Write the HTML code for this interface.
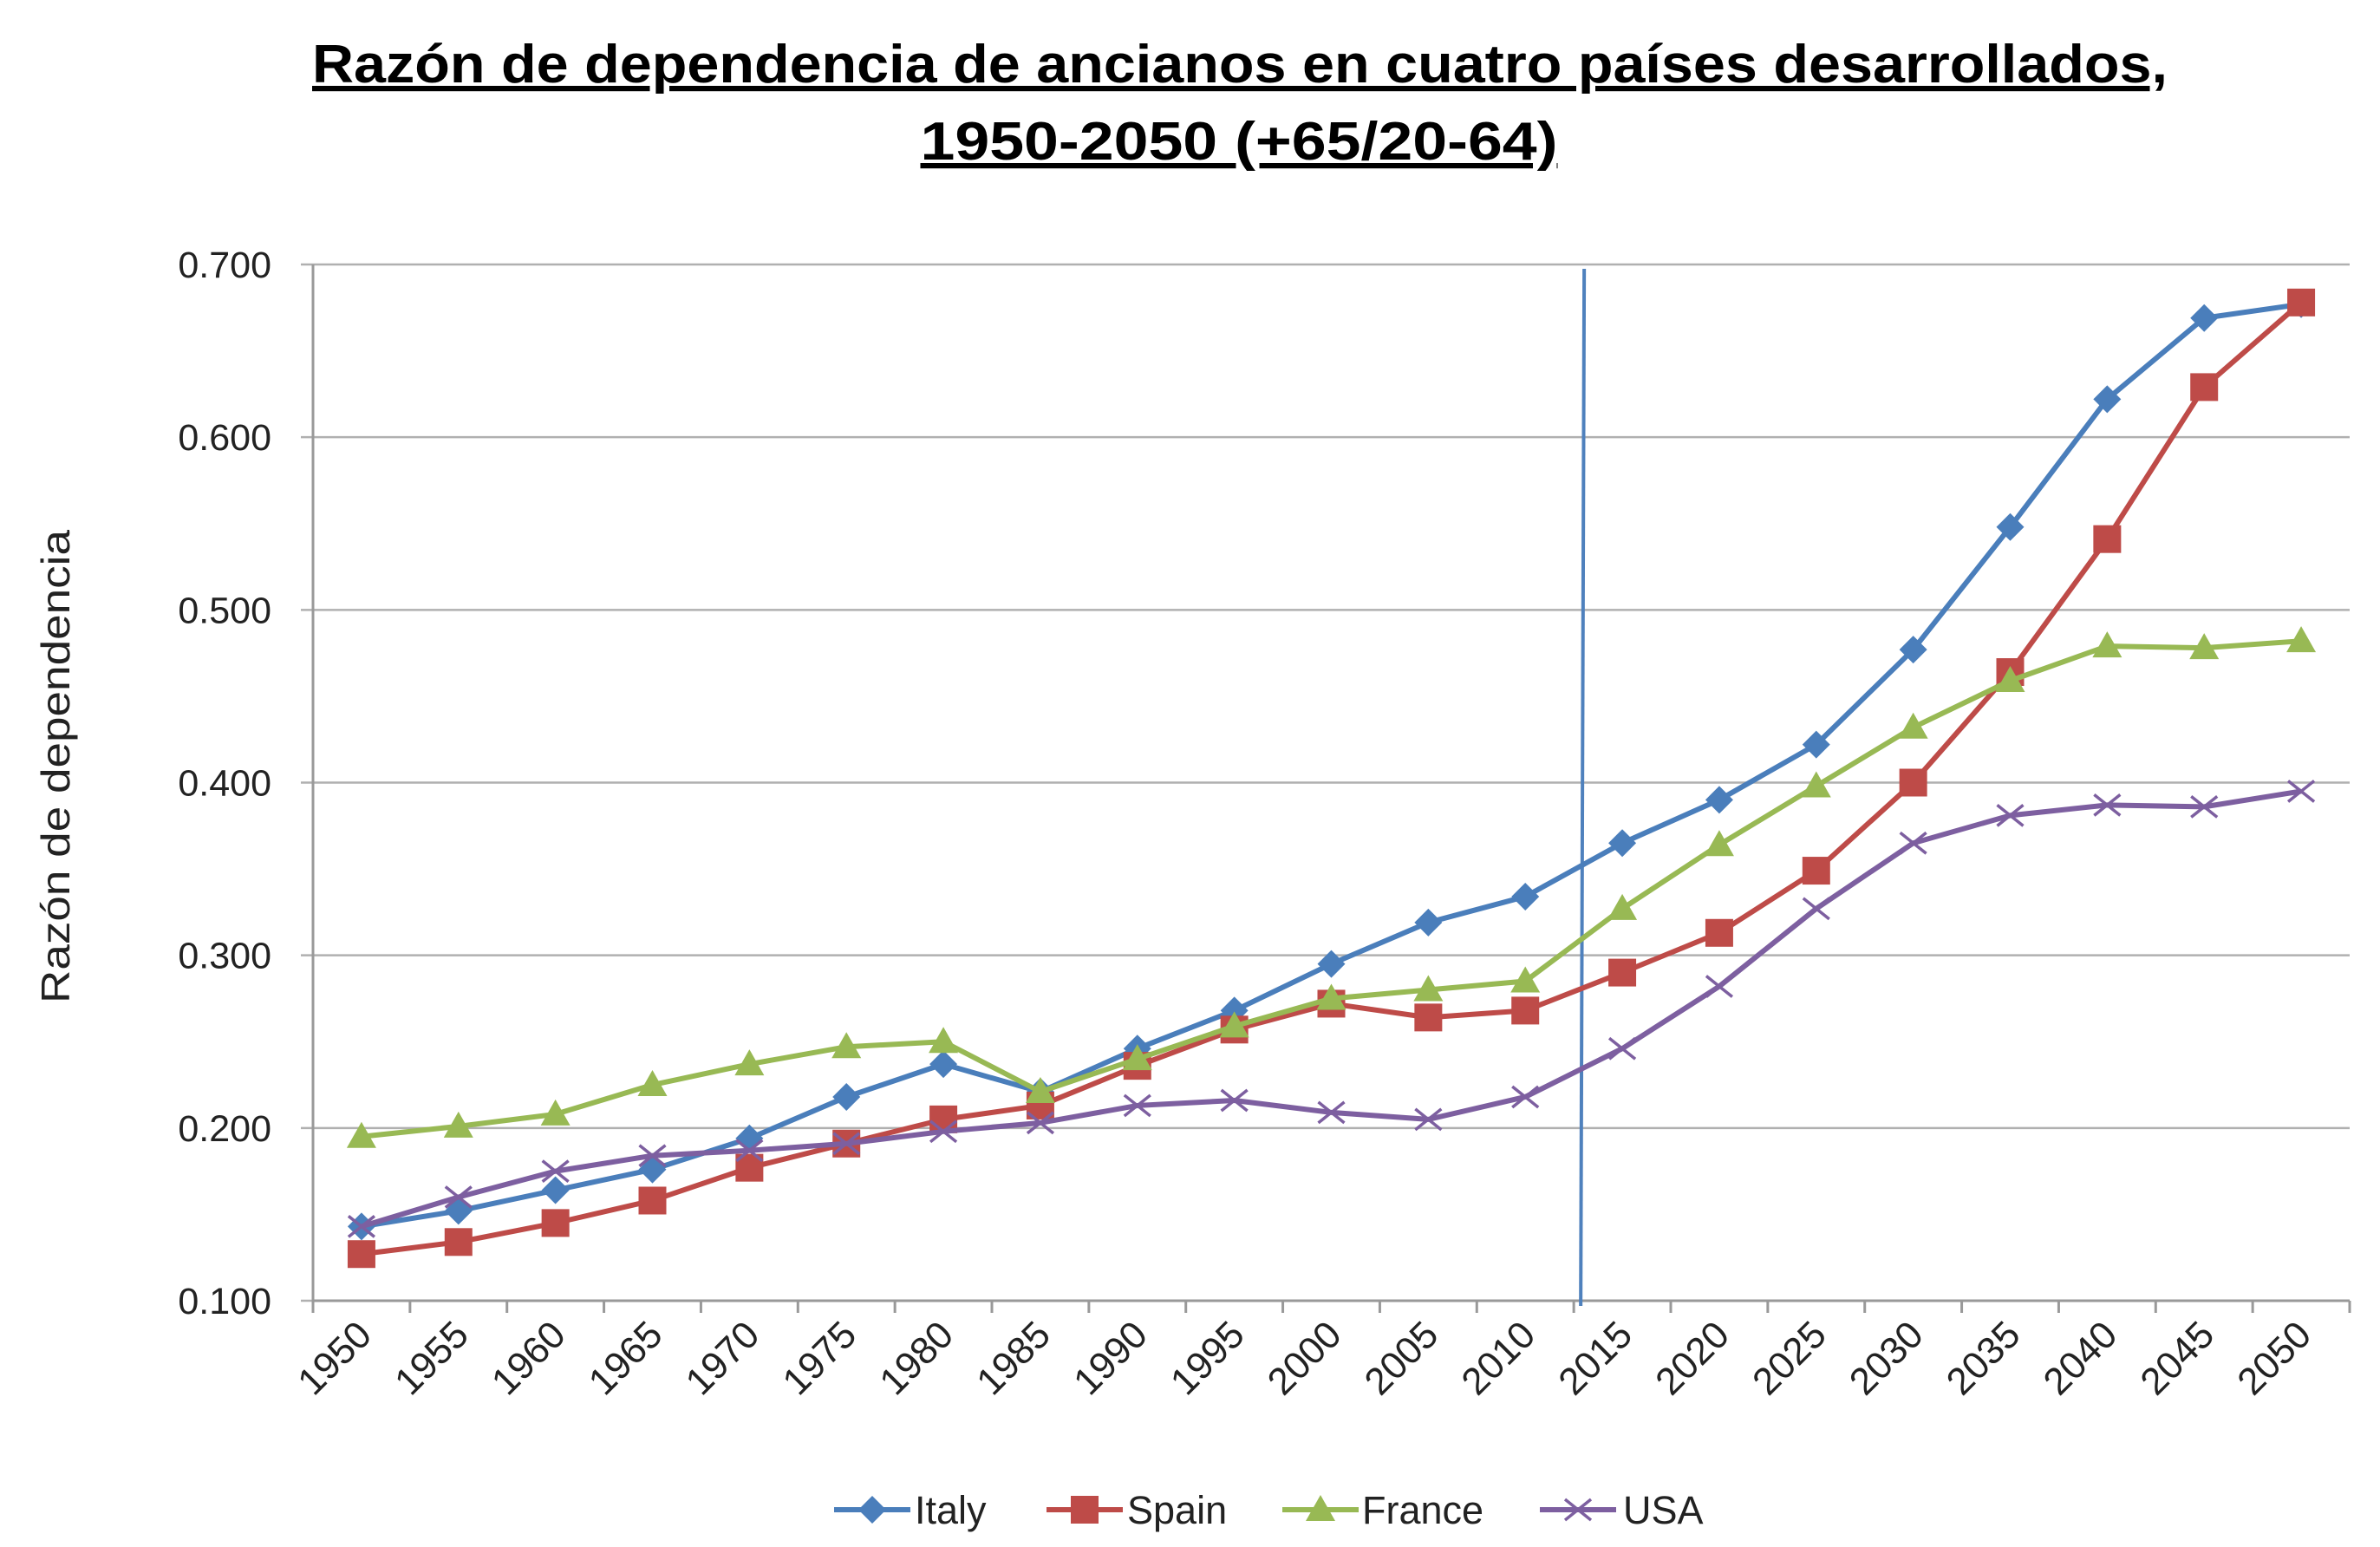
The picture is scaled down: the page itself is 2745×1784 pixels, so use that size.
<!DOCTYPE html>
<html><head><meta charset="utf-8"><style>
html,body{margin:0;padding:0;background:#fff;}
svg{display:block;font-family:"Liberation Sans",Arial,sans-serif;}
</style></head><body>
<svg id="chart" width="2745" height="1784" viewBox="0 0 2745 1784">
<text x="1430" y="95" text-anchor="middle" font-size="62" font-weight="bold" text-decoration="underline" textLength="2140" lengthAdjust="spacingAndGlyphs">Razón de dependencia de ancianos en cuatro países desarrollados,</text>
<text x="1429" y="184" text-anchor="middle" font-size="62" font-weight="bold" text-decoration="underline" textLength="735" lengthAdjust="spacingAndGlyphs">1950-2050 (+65/20-64)</text>
<text transform="translate(80,884) rotate(-90)" text-anchor="middle" font-size="46" fill="#222" textLength="546" lengthAdjust="spacingAndGlyphs">Razón de dependencia</text>
<g id="grid"></g><g id="axes"></g><g id="series"></g><g id="legend"></g>
</svg>
<script>
const years=[1950,1955,1960,1965,1970,1975,1980,1985,1990,1995,2000,2005,2010,2015,2020,2025,2030,2035,2040,2045,2050];
const italy=[0.143,0.152,0.164,0.176,0.194,0.218,0.237,0.221,0.246,0.268,0.295,0.319,0.334,0.365,0.390,0.422,0.477,0.548,0.622,0.669,0.677];
const spain=[0.127,0.134,0.145,0.158,0.177,0.191,0.205,0.213,0.236,0.257,0.272,0.264,0.268,0.290,0.313,0.349,0.400,0.464,0.541,0.629,0.678];
const france=[0.195,0.201,0.208,0.225,0.237,0.247,0.250,0.221,0.240,0.259,0.275,0.280,0.285,0.327,0.364,0.398,0.432,0.459,0.479,0.478,0.482];
const usa=[0.143,0.160,0.175,0.184,0.187,0.191,0.198,0.203,0.213,0.216,0.209,0.205,0.218,0.246,0.282,0.327,0.365,0.381,0.387,0.386,0.395];
const yTicks=[0.1,0.2,0.3,0.4,0.5,0.6,0.7];
const yTickLabels=["0.100","0.200","0.300","0.400","0.500","0.600","0.700"];
const markerYear=2015;

const NS="http://www.w3.org/2000/svg";
const L=361,R=2710,T=305,B=1500,yMin=0.1,yMax=0.7;
const step=(R-L)/years.length;
function xPos(i){return L+step*(i+0.5);}
function yPos(v){return B-(v-yMin)/(yMax-yMin)*(B-T);}
function mk(tag,attrs,parent){const e=document.createElementNS(NS,tag);for(const k in attrs)e.setAttribute(k,attrs[k]);parent.appendChild(e);return e;}
const grid=document.getElementById('grid'),axes=document.getElementById('axes'),ser=document.getElementById('series'),leg=document.getElementById('legend');

yTicks.forEach((v,i)=>{
  const y=yPos(v);
  const g=mk('line',{x1:L-14,x2:R,y1:y,y2:y,stroke:'#b0b0b0','stroke-width':2.5},grid);
  
  
  const t=mk('text',{x:L-48,y:y+15,'text-anchor':'end','font-size':43,fill:'#222'},axes);
  t.textContent=yTickLabels[i];
  
  
});
const ya=mk('line',{x1:L,x2:L,y1:T,y2:B+14,stroke:'#999','stroke-width':3},axes);


const xa=mk('line',{x1:L,x2:R,y1:B,y2:B,stroke:'#999','stroke-width':3},axes);


for(let i=0;i<=years.length;i++){
  const x=L+step*i;
  const tk=mk('line',{x1:x,x2:x,y1:B,y2:B+14,stroke:'#999','stroke-width':3},axes);
  
  
}
years.forEach((yr,i)=>{
  const x=xPos(i)+14,y=B+42;
  const t=mk('text',{x:x,y:y,'text-anchor':'end','font-size':44,fill:'#222',transform:`rotate(-45 ${x} ${y})`},axes);
  t.textContent=yr;
  
  
});
const mi=years.indexOf(markerYear);
const mx=L+step*mi;
const vl=mk('line',{x1:mx+12,y1:310,x2:mx+8,y2:B+6,stroke:'#4F81BD','stroke-width':4},axes);



function marker(type,x,y,color,parent){
  let e;
  if(type==='diamond') e=mk('polygon',{points:`${x},${y-16} ${x+16},${y} ${x},${y+16} ${x-16},${y}`,fill:color},parent);
  else if(type==='square') e=mk('rect',{x:x-16,y:y-16,width:32,height:32,fill:color},parent);
  else if(type==='triangle') e=mk('polygon',{points:`${x},${y-17} ${x+17},${y+13} ${x-17},${y+13}`,fill:color},parent);
  else e=mk('path',{d:`M${x-15},${y-12}L${x+15},${y+12}M${x-15},${y+12}L${x+15},${y-12}`,stroke:color,'stroke-width':3.5,fill:'none'},parent);
  return e;
}
const seriesList=[
  {name:'Italy',data:italy,color:'#4A7EBB',m:'diamond'},
  {name:'Spain',data:spain,color:'#BE4B48',m:'square'},
  {name:'France',data:france,color:'#98B954',m:'triangle'},
  {name:'USA',data:usa,color:'#7D5FA0',m:'x'}
];
seriesList.forEach(s=>{
  const g=mk('g',{},ser);
  
  
  const pts=s.data.map((v,i)=>xPos(i)+','+yPos(v)).join(' ');
  const pl=mk('polyline',{points:pts,fill:'none',stroke:s.color,'stroke-width':6,'stroke-linejoin':'round'},g);
  
  
  s.data.forEach((v,i)=>{
    const e=marker(s.m,xPos(i),yPos(v),s.color,g);
    
    
  });
});
const legPos=[{x1:962,tx:1055},{x1:1207,tx:1300},{x1:1479,tx:1571},{x1:1776,tx:1872}];
seriesList.forEach((s,i)=>{
  const p=legPos[i],y=1741;
  const g=mk('g',{},leg);
  
  
  mk('line',{x1:p.x1,x2:p.x1+88,y1:y,y2:y,stroke:s.color,'stroke-width':6},g);
  marker(s.m,p.x1+44,y,s.color,g);
  const t=mk('text',{x:p.tx,y:y+16,'font-size':45,fill:'#222'},g);
  t.textContent=s.name;
});
</script>
</body></html>
